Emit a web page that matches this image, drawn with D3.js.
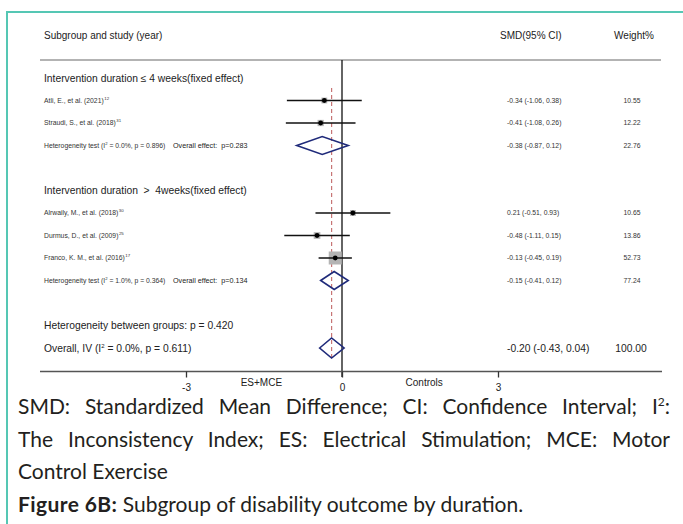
<!DOCTYPE html>
<html>
<head>
<meta charset="utf-8">
<script src="https://cdn.jsdelivr.net/npm/d3@7"></script>
<style>
  body { margin: 0; background: #fff; width: 683px; height: 524px; overflow: hidden; position: relative; }
  #chart { position: absolute; left: 0; top: 0; }
  .caption { position: absolute; left: 18px; width: 652px; font-family: Lato, "Open Sans", sans-serif; font-size: 21px; color: #231f20; line-height: 32.7px; }
  .caption div { white-space: nowrap; }
  .caption .just { text-align: justify; text-align-last: justify; white-space: normal; }
  .frame-top { position: absolute; left: 6px; top: 11px; width: 677px; height: 2px; background: #55c7b4; }
  .frame-left { position: absolute; left: 6px; top: 11px; width: 2px; height: 513px; background: #55c7b4; }
</style>
</head>
<body>
<div class="frame-top"></div>
<div class="frame-left"></div>
<div id="chart"></div>
<div class="caption" style="top: 390px;">
  <div class="just">SMD: Standardized Mean Difference; CI: Confidence Interval; I<sup style="font-size:12px; vertical-align: 8px; line-height:0">2</sup>:</div>
  <div class="just">The Inconsistency Index; ES: Electrical Stimulation; MCE: Motor</div>
  <div>Control Exercise</div>
  <div><b style="letter-spacing:0.4px">Figure 6B:</b> Subgroup of disability outcome by duration.</div>
</div>
<script>
// ---- data ----
const studyLabels = ["Atli, E., et al. (2021)", "Straudi, S., et al. (2018)", "Alrwaily, M., et al. (2018)", "Durmus, D., et al. (2009)", "Franco, K. M., et al. (2016)"];
const studyRefs = ["12", "31", "30", "25", "17"];
const studyGroup = [0, 0, 1, 1, 1];
const studySMD = [-0.34, -0.41, 0.21, -0.48, -0.13];
const studyLow = [-1.06, -1.08, -0.51, -1.11, -0.45];
const studyHigh = [0.38, 0.26, 0.93, 0.15, 0.19];
const studyWeight = [10.55, 12.22, 10.65, 13.86, 52.73];

const groupLabels = ["Intervention duration \u2264 4 weeks(fixed effect)", "Intervention duration \u00a0>\u00a0 4weeks(fixed effect)"];
const groupI2 = ["0.0%", "1.0%"];
const groupHetP = ["0.896", "0.364"];
const groupEffectP = ["0.283", "0.134"];
const groupSMD = [-0.38, -0.15];
const groupLow = [-0.87, -0.41];
const groupHigh = [0.12, 0.12];
const groupWeight = [22.76, 77.24];

const overallSMD = -0.20, overallLow = -0.43, overallHigh = 0.04, overallWeight = 100.00;
const overallI2 = "0.0%", overallP = "0.611", betweenP = "0.420";

const xTicks = [-3, 0, 3];
const sideLabels = [{v: -1.55, t: "ES+MCE"}, {v: 1.58, t: "Controls"}];

// ---- rows ----
let rows = [];
groupLabels.forEach((g, gi) => {
    rows.push({type: "group", g: gi});
    studyLabels.forEach((s, si) => { if (studyGroup[si] === gi) rows.push({type: "study", s: si}); });
    rows.push({type: "het", g: gi});
    rows.push({type: "blank"});
});
rows.push({type: "between"});
rows.push({type: "overall"});
rows.forEach((r, i) => r.i = i);

const W = 683, H = 393;
const font = "'Liberation Sans', Arial, sans-serif";

let svg = d3.select("#chart").append("svg")
    .attr("width", W).attr("height", H)
    .style("font-family", font);

let x = d3.scaleLinear().domain([-3, 3]).range([186, 498]);
let y = d3.scalePoint().domain(rows.map(r => r.i)).range([78, 348]);
let side = d3.scaleSqrt().domain([0, 52.73]).range([0, 13]);

// plain hyphen minus, like the original
const fmt = n => n.toFixed(2);
const ciText = (e, l, h) => `${fmt(e)} (${fmt(l)}, ${fmt(h)})`;

// header
svg.append("text").attr("x", 44).attr("y", 35 + 3.6).attr("font-size", 10).attr("fill", "#222").text("Subgroup and study (year)");
svg.append("text").attr("x", 500).attr("y", 35 + 3.6).attr("font-size", 10).attr("fill", "#222").text("SMD(95% CI)");
svg.append("text").attr("x", 634).attr("y", 35 + 3.6).attr("font-size", 10).attr("fill", "#222").attr("text-anchor", "middle").text("Weight%");

svg.append("line").attr("x1", 40).attr("x2", 661).attr("y1", 60).attr("y2", 60)
    .attr("stroke", "#9a9a9a").attr("stroke-width", 1.5);

// zero line
svg.append("line").attr("x1", x(0)).attr("x2", x(0)).attr("y1", 60).attr("y2", 377)
    .attr("stroke", "#111").attr("stroke-width", 1.3);

// overall effect dashed line
svg.append("line").attr("x1", x(overallSMD)).attr("x2", x(overallSMD)).attr("y1", 88).attr("y2", 360)
    .attr("stroke", "#c77575").attr("stroke-width", 1.2).attr("stroke-dasharray", "4,3");

// axis
svg.append("line").attr("x1", 40).attr("x2", 662).attr("y1", 371.5).attr("y2", 371.5)
    .attr("stroke", "#555").attr("stroke-width", 1.5);
let axis = svg.append("g").attr("transform", "translate(0,371.5)")
    .call(d3.axisBottom(x).tickValues(xTicks).tickSize(6).tickPadding(6).tickFormat(d => String(d)));
axis.select(".domain").remove();
axis.selectAll(".tick line").attr("stroke", "#333").attr("stroke-width", 1.3);
axis.selectAll(".tick text").attr("font-size", 10).attr("font-family", font).attr("fill", "#222");

svg.selectAll(".side-label").data(sideLabels).join("text")
    .attr("class", "side-label")
    .attr("x", d => x(d.v)).attr("y", 382 + 3.6)
    .attr("text-anchor", "middle").attr("font-size", 10).attr("fill", "#222")
    .text(d => d.t);

const small = 6.8, big = 10.3;

// row texts
rows.forEach(r => {
    let cy = y(r.i);
    if (r.type === "group") {
        svg.append("text").attr("x", 44).attr("y", cy + big * 0.36).attr("font-size", big).attr("fill", "#222")
            .text(groupLabels[r.g]);
    } else if (r.type === "study") {
        let t = svg.append("text").attr("x", 44).attr("y", cy + small * 0.36).attr("font-size", small).attr("fill", "#333");
        t.append("tspan").text(studyLabels[r.s]);
        t.append("tspan").attr("font-size", 4.4).attr("dy", -3).attr("dx", 0.5).text(studyRefs[r.s]);
        svg.append("text").attr("x", 507).attr("y", cy + small * 0.36).attr("font-size", small).attr("fill", "#333")
            .text(ciText(studySMD[r.s], studyLow[r.s], studyHigh[r.s]));
        svg.append("text").attr("x", 632).attr("y", cy + small * 0.36).attr("font-size", small).attr("fill", "#333")
            .attr("text-anchor", "middle").text(fmt(studyWeight[r.s]));
    } else if (r.type === "het") {
        let t = svg.append("text").attr("x", 44).attr("y", cy + small * 0.36).attr("font-size", small).attr("fill", "#333");
        t.append("tspan").text("Heterogeneity test (I");
        t.append("tspan").attr("font-size", 4.2).attr("dy", -3).text("2");
        t.append("tspan").attr("dy", 3).text(` = ${groupI2[r.g]}, p = ${groupHetP[r.g]})`);
        svg.append("text").attr("x", 173).attr("y", cy + small * 0.36).attr("font-size", 7.2).attr("fill", "#222")
            .text(`Overall effect:  p=${groupEffectP[r.g]}`).style("white-space", "pre");
        svg.append("text").attr("x", 507).attr("y", cy + small * 0.36).attr("font-size", small).attr("fill", "#333")
            .text(ciText(groupSMD[r.g], groupLow[r.g], groupHigh[r.g]));
        svg.append("text").attr("x", 632).attr("y", cy + small * 0.36).attr("font-size", small).attr("fill", "#333")
            .attr("text-anchor", "middle").text(fmt(groupWeight[r.g]));
    } else if (r.type === "between") {
        svg.append("text").attr("x", 44).attr("y", cy + big * 0.36).attr("font-size", big).attr("fill", "#222")
            .text(`Heterogeneity between groups: p = ${betweenP}`);
    } else if (r.type === "overall") {
        let t = svg.append("text").attr("x", 44).attr("y", cy + big * 0.36).attr("font-size", big).attr("fill", "#222");
        t.append("tspan").text("Overall, IV (I");
        t.append("tspan").attr("font-size", 6).attr("dy", -4).text("2");
        t.append("tspan").attr("dy", 4).text(` = ${overallI2}, p = ${overallP})`);
        svg.append("text").attr("x", 507).attr("y", cy + big * 0.36).attr("font-size", big).attr("fill", "#222")
            .text(ciText(overallSMD, overallLow, overallHigh));
        svg.append("text").attr("x", 631).attr("y", cy + big * 0.36).attr("font-size", big).attr("fill", "#222")
            .attr("text-anchor", "middle").text(fmt(overallWeight));
    }
});

// study marks
let studyRows = rows.filter(r => r.type === "study");
svg.selectAll(".wbox").data(studyRows).join("rect")
    .attr("class", "wbox")
    .attr("x", r => x(studySMD[r.s]) - side(studyWeight[r.s]) / 2)
    .attr("y", r => y(r.i) - side(studyWeight[r.s]) / 2)
    .attr("width", r => side(studyWeight[r.s]))
    .attr("height", r => side(studyWeight[r.s]))
    .attr("fill", "#b4b4b4");
svg.selectAll(".ci").data(studyRows).join("line")
    .attr("class", "ci")
    .attr("x1", r => x(studyLow[r.s])).attr("x2", r => x(studyHigh[r.s]))
    .attr("y1", r => y(r.i)).attr("y2", r => y(r.i))
    .attr("stroke", "#111").attr("stroke-width", 1.4);
svg.selectAll(".pt").data(studyRows).join("circle")
    .attr("class", "pt")
    .attr("cx", r => x(studySMD[r.s])).attr("cy", r => y(r.i)).attr("r", 2.4)
    .attr("fill", "#000");

// diamonds
let diamonds = rows.filter(r => r.type === "het").map(r => ({cy: y(r.i), e: groupSMD[r.g], l: groupLow[r.g], h: groupHigh[r.g], hh: 9}));
diamonds.push({cy: y(rows.find(r => r.type === "overall").i), e: overallSMD, l: overallLow, h: overallHigh, hh: 10});
svg.selectAll(".dia").data(diamonds).join("path")
    .attr("class", "dia")
    .attr("d", d => `M${x(d.l)},${d.cy}L${x(d.e)},${d.cy - d.hh}L${x(d.h)},${d.cy}L${x(d.e)},${d.cy + d.hh}Z`)
    .attr("fill", "none").attr("stroke", "#1f2a7a").attr("stroke-width", 1.6);
</script>
</body>
</html>
